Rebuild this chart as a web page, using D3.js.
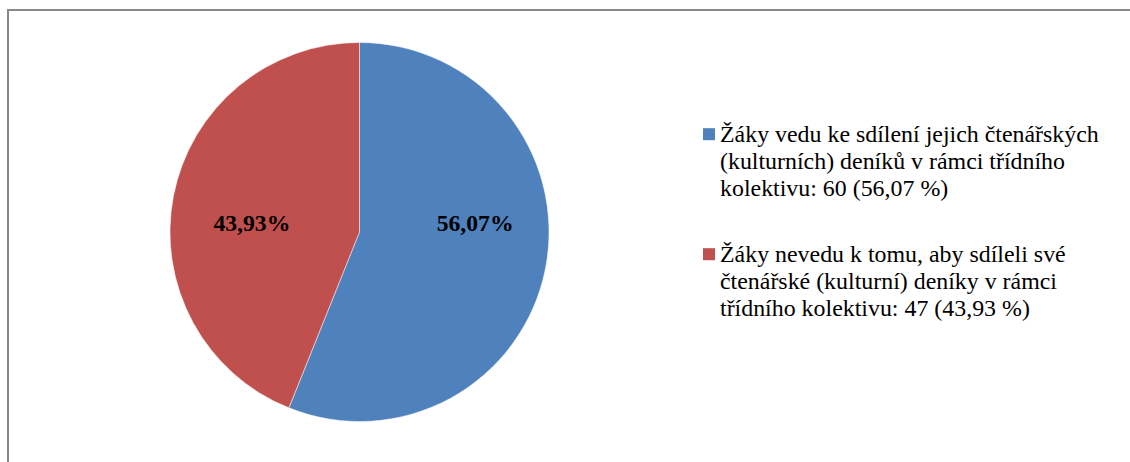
<!DOCTYPE html>
<html>
<head>
<meta charset="utf-8">
<script src="https://cdn.jsdelivr.net/npm/d3@7"></script>
<style>
  html, body { margin: 0; padding: 0; background: #fff; }
  svg { display: block; }
</style>
</head>
<body>
<svg id="chart" width="1130" height="462"></svg>
<script>
// Survey answers: pupils sharing their reading (cultural) diaries in class
const categories = ["shared", "notShared"];
const values = [60, 47];
const colors = ["#4F81BD", "#C0504D"];
const legendLines = [
  ["Žáky vedu ke sdílení jejich čtenářských", "(kulturních) deníků v rámci třídního", "kolektivu: 60 (56,07 %)"],
  ["Žáky nevedu k tomu, aby sdíleli své", "čtenářské (kulturní) deníky v rámci", "třídního kolektivu: 47 (43,93 %)"]
];

const svg = d3.select("#chart");
const W = 1130, H = 462;
const serif = "'Liberation Serif', 'Times New Roman', serif";

// outer frame (only top and left edges fall inside the window)
svg.append("rect")
  .attr("x", 8).attr("y", 10)
  .attr("width", W).attr("height", H)
  .attr("fill", "#fff")
  .attr("stroke", "#888")
  .attr("stroke-width", 2);

const cx = 359.5, cy = 232, R = 189.5;
const total = d3.sum(values);
const data = categories.map((c, i) => ({ key: c, value: values[i], color: colors[i] }));

const pie = d3.pie().sort(null).value(d => d.value).startAngle(0).endAngle(2 * Math.PI);
const arc = d3.arc().innerRadius(0).outerRadius(R);
const arcs = pie(data);

const g = svg.append("g").attr("transform", `translate(${cx},${cy})`);
g.selectAll("path.slice")
  .data(arcs)
  .enter().append("path")
  .attr("class", "slice")
  .attr("d", arc)
  .attr("fill", d => d.data.color)
  .attr("stroke", "#fff")
  .attr("stroke-opacity", 0.6)
  .attr("stroke-width", 0.8);

// percentage labels inside slices
const fmt = v => (v * 100).toFixed(2).replace(".", ",") + "%";
const labelR = R * 0.6;
g.selectAll("text.pct")
  .data(arcs)
  .enter().append("text")
  .attr("class", "pct")
  .attr("x", d => Math.sin((d.startAngle + d.endAngle) / 2) * labelR + 4)
  .attr("y", -1)
  .attr("text-anchor", "middle")
  .attr("font-family", serif)
  .attr("font-weight", "bold")
  .attr("font-size", 23.7)
  .attr("fill", "#000")
  .text(d => fmt(d.value / total));

// legend
const legend = svg.append("g").attr("transform", "translate(703,0)");
const entryY = [141.7, 261.7];
const lineH = 27;
data.forEach((d, i) => {
  const eg = legend.append("g").attr("transform", `translate(0,${entryY[i]})`);
  eg.append("rect")
    .attr("x", 0).attr("y", -13.5)
    .attr("width", 12).attr("height", 12)
    .attr("fill", d.color);
  eg.selectAll("text")
    .data(legendLines[i])
    .enter().append("text")
    .attr("x", 17)
    .attr("y", (t, j) => j * lineH)
    .attr("font-family", serif)
    .attr("font-size", 23.9)
    .attr("fill", "#000")
    .text(t => t);
});
</script>
</body>
</html>
